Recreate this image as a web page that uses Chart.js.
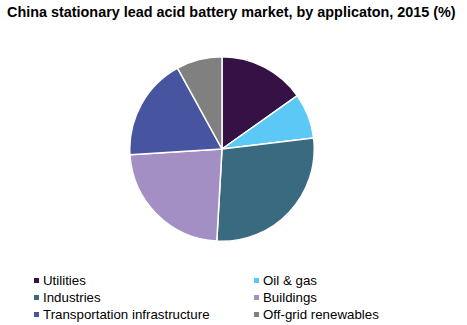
<!DOCTYPE html>
<html><head><meta charset="utf-8">
<script src="https://cdn.jsdelivr.net/npm/chart.js@4"></script>
<style>
html,body{margin:0;padding:0;background:#fff;}
#wrap{position:relative;width:467px;height:325px;overflow:hidden;font-family:"Liberation Sans",Arial,sans-serif;color:#000;}
#title{position:absolute;left:7px;top:4px;font-weight:bold;font-size:14.4px;white-space:nowrap;}
#pie{position:absolute;left:129px;top:56px;width:186px;height:186px;}
.li{position:absolute;font-size:13.3px;white-space:nowrap;line-height:15px;}
.sw{display:inline-block;width:5px;height:5px;margin-right:4px;vertical-align:middle;position:relative;top:-1px;}
</style></head>
<body><div id="wrap">
<div id="title">China stationary lead acid battery market, by applicaton, 2015 (%)</div>
<div id="pie"><canvas id="c" width="186" height="186"></canvas></div>
<div id="legend"></div>
</div>
<script>
const categories = ["Utilities","Oil & gas","Industries","Buildings","Transportation infrastructure","Off-grid renewables"];
const shares = [15.2, 7.9, 27.8, 23.1, 18.0, 8.0];
const colors = ["#361146","#5bc8f5","#3a6a80","#a48fc4","#4755a0","#808080"];

const leg = document.getElementById('legend');
categories.forEach((name,i)=>{
  const col = i%2, row = Math.floor(i/2);
  const d = document.createElement('div');
  d.className='li';
  d.style.left = (col? 254:34)+'px';
  d.style.top = (273 + row*17)+'px';
  d.innerHTML = '<span class="sw" style="background:'+colors[i]+'"></span>';
  d.appendChild(document.createTextNode(name));
  leg.appendChild(d);
});

new Chart(document.getElementById('c'), {
  type:'pie',
  data:{labels:categories, datasets:[{data:shares, backgroundColor:colors, borderColor:'#ffffff', borderWidth:1.5}]},
  options:{responsive:false, animation:false, devicePixelRatio:1,
    layout:{padding:0},
    plugins:{legend:{display:false}, tooltip:{enabled:false}, title:{display:false}}}
});
</script>
</body></html>
